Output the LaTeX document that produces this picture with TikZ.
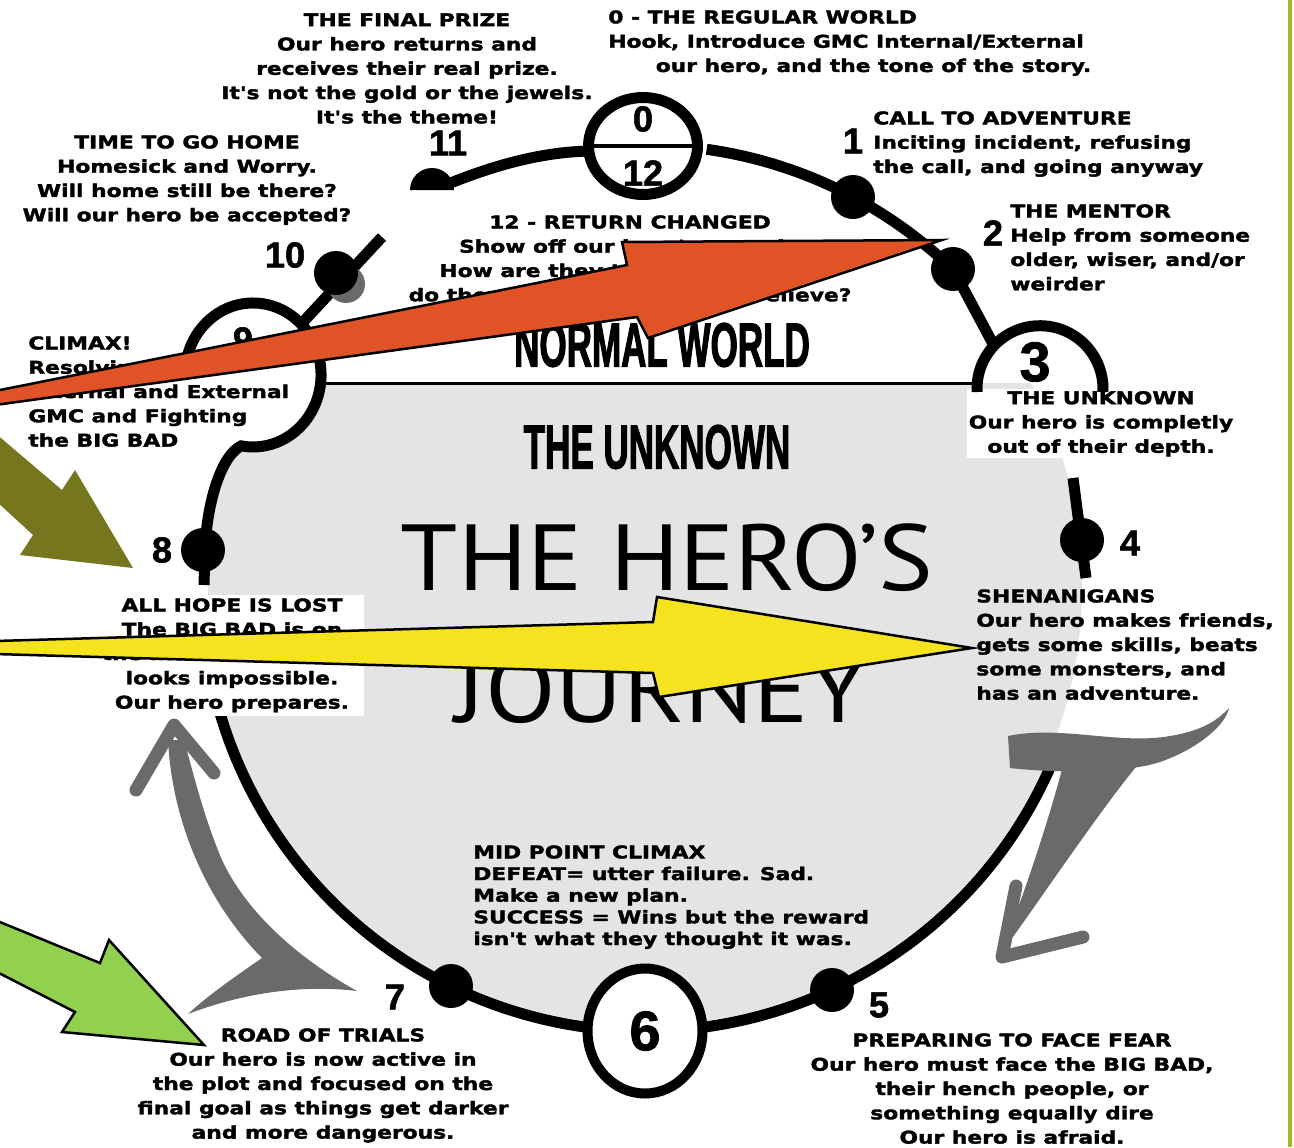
\documentclass[tikz,border=0pt]{standalone}
\usepackage{fontspec}
\usepackage{tikz}
\usetikzlibrary{shapes}

\newfontfamily\bodyfont[FakeStretch=1.24,FakeBold=2]{DejaVu Sans}
\newfontfamily\numfont[FakeBold=1.5]{Liberation Sans}
\newfontfamily\blockfont[FakeStretch=0.56,FakeBold=1.5]{Liberation Sans}
\newfontfamily\herofont[FakeStretch=1.1]{PT Sans}

\definecolor{unknowngrey}{HTML}{E4E4E4}
\definecolor{swooshgrey}{HTML}{6A6A6A}
\definecolor{arroworange}{HTML}{E05327}
\definecolor{arrowolive}{HTML}{76761E}
\definecolor{arrowyellow}{HTML}{F5E31F}
\definecolor{arrowgreen}{HTML}{92D050}
\definecolor{edgegreen}{HTML}{9DBB2D}

\begin{document}
\begin{tikzpicture}[x=0.02cm, y=-0.02cm]
  \tikzset{
    ring/.style={line width=0.22cm},
    stagedot/.style={circle, fill=black, inner sep=0pt, minimum size=0.88cm},
    stagering/.style={draw, ellipse, fill=white, inner sep=0pt},
    stagenum/.style={inner sep=0pt, font=\numfont\bfseries\fontsize{20.6}{22}\selectfont},
    bignum/.style={inner sep=0pt, font=\numfont\bfseries\fontsize{31.7}{34}\selectfont},
    blurb/.style={inner sep=0pt, font=\bodyfont\bfseries\fontsize{10}{13.83}\selectfont},
    tightblurb/.style={inner sep=0pt, font=\bodyfont\bfseries\fontsize{10}{12.33}\selectfont},
    blocktitle/.style={inner sep=0pt, font=\blockfont\bfseries\fontsize{35.6}{38}\selectfont},
    herotitle/.style={inner sep=0pt, font=\herofont\fontsize{53.4}{56}\selectfont},
    swoosh/.style={fill=swooshgrey},
    barb/.style={draw=swooshgrey, line width=0.26cm, line cap=round, line join=round},
    blockarrow/.style={draw=black, line width=0.05cm}
  }
  \useasboundingbox (0,0) rectangle (1294,1147);
  %
  \coordinate (c) at (645,588);
  \coordinate (r3nw) at (995.5,348.5);
  %
  \begin{scope}
    \clip (322,383) -- (1294,383) -- (1294,1147) -- (0,1147) -- (0,452)
      -- (240,452) -- (292,437) -- (318,410) -- cycle;
    \fill [unknowngrey] (c) circle [radius=437];
  \end{scope}
  \draw [line width=0.06cm] (322,383) -- (977,383);
  %
  \node [blurb, align=center, anchor=north, fill=white, inner xsep=1pt, inner ysep=1pt]
    (t3) at (1101,389) {THE UNKNOWN\\Our hero is completly\\out of their depth.};
  %
  \fill (410,190) arc [start angle=180, end angle=360, radius=22] -- cycle;
  \draw [ring] (448,184) .. controls (500,163) and (545,152) .. (590,151);
  \draw [ring] (c) ++(-82:443) arc [start angle=-82, end angle=-46, radius=443];
  \draw [ring] (977.1,392) arc [start angle=177, end angle=363, radius=63];
  \draw [ring] (c) ++(21:443) arc [start angle=21, end angle=170, radius=443];
  \draw [ring] (1073,478) -- (1086,578);
  \draw [ring] (185.3,368.7) arc [start angle=185, end angle=460, x radius=68, y radius=72]
    .. controls (222,455) and (207,500) .. (205,550) -- (204,585);
  \draw [ring] (301.1,324.1) -- (382,237);
  \fill [swooshgrey] (346,284) circle [radius=19];
  %
  \foreach \nm/\px/\py in {s1/853/197, s2/953/269, s4/1082/540, s5/832/990,
                           s7/451/986, s8/203/550, s10/336/273} {
    \node [stagedot] (\nm) at (\px,\py) {};
  }
  \draw [ring] (s2.center) -- (r3nw);
  \node [stagering, line width=0.22cm, minimum width=2.18cm, minimum height=1.94cm]
    (s0) at (643,146) {};
  \draw [line width=0.08cm] (s0.west) -- (s0.east);
  \node [stagering, bignum, line width=0.2cm, minimum width=2.3cm, minimum height=2.5cm]
    (s6) at (645,1031) {6};
  %
  \node [stagenum] (n0) at (643,119) {0};
  \node [stagenum] (n12) at (643,173) {12};
  \node [bignum] (n3) at (1035,362) {3};
  \foreach \lab/\px/\py in {11/448/143, 10/285/255, 1/853/141, 2/993/233, 4/1130/543,
                            5/879/1005, 7/395/997, 8/162/550, 9/243/340} {
    \node [stagenum] (n\lab) at (\px,\py) {\lab};
  }
  %
  \fill [swoosh] (168,740) .. controls (172,820) and (205,900) .. (262,958)
    .. controls (230,980) and (205,998) .. (188,1014)
    .. controls (240,994) and (300,984) .. (357,991)
    .. controls (310,965) and (250,920) .. (222,860)
    .. controls (205,820) and (195,780) .. (184,740) -- cycle;
  \draw [barb] (136,790) -- (174,725) -- (214,773);
  \fill [swoosh] (1008,736) .. controls (1060,725) and (1120,745) .. (1170,736)
    .. controls (1200,731) and (1216,722) .. (1229,708)
    .. controls (1226,724) and (1200,748) .. (1160,762)
    .. controls (1120,775) and (1045,772) .. (1010,768) -- cycle;
  \fill [swoosh] (1064,762) .. controls (1046,830) and (1022,900) .. (1000,955)
    .. controls (1040,900) and (1100,810) .. (1140,762) -- cycle;
  \draw [barb] (1016,886) -- (1002,957) -- (1083,937);
  %
  \node [blurb, align=center, anchor=north] (t11) at (407,13)
    {THE FINAL PRIZE\\Our hero returns and\\receives their real prize.\\It's not the gold or the jewels.\\It's the theme!};
  \node [blurb, align=left, anchor=north west] (t0) at (608,10)
    {0 - THE REGULAR WORLD\\Hook, Introduce GMC Internal/External\\\hspace*{2.7em}our hero, and the tone of the story.};
  \node [blurb, align=left, anchor=north west] (t1) at (873,111)
    {CALL TO ADVENTURE\\Inciting incident, refusing\\the call, and going anyway};
  \node [blurb, align=left, anchor=north west] (t2) at (1010,204)
    {THE MENTOR\\Help from someone\\older, wiser, and/or\\weirder};
  \node [blurb, align=center, anchor=north] (t10) at (187,135)
    {TIME TO GO HOME\\Homesick and Worry.\\Will home still be there?\\Will our hero be accepted?};
  \node [blurb, align=center, anchor=north] (t12) at (630,215)
    {12 - RETURN CHANGED\\Show off our hero's growth.\\How are they treated now, and\\do they live what they now believe?};
  \node [blurb, align=left, anchor=north west] (t9) at (28,336)
    {CLIMAX!\\Resolving\\Internal and External\\GMC and Fighting\\the BIG BAD};
  \node [blurb, align=left, anchor=north west] (t4) at (976,589)
    {SHENANIGANS\\Our hero makes friends,\\gets some skills, beats\\some monsters, and\\has an adventure.};
  \node [blurb, align=center, anchor=north, fill=white, inner xsep=1pt, inner ysep=2pt]
    (t8) at (232,594.5)
    {ALL HOPE IS LOST\\The BIG BAD is on\\the move and victory\\looks impossible.\\Our hero prepares.};
  \node [tightblurb, align=left, anchor=north west] (t6) at (473,845)
    {MID POINT CLIMAX\\DEFEAT= utter failure. Sad.\\Make a new plan.\\SUCCESS = Wins but the reward\\isn't what they thought it was.};
  \node [blurb, align=center, anchor=north] (t7) at (323,1028)
    {ROAD OF TRIALS\\Our hero is now active in\\the plot and focused on the\\final goal as things get darker\\and more dangerous.};
  \node [blurb, align=center, anchor=north] (t5) at (1012,1033)
    {PREPARING TO FACE FEAR\\Our hero must face the BIG BAD,\\their hench people, or\\something equally dire\\Our hero is afraid.};
  %
  \node [blocktitle] (normal) at (662,345) {NORMAL WORLD};
  \node [blocktitle] (unknown) at (657,447) {THE UNKNOWN};
  \node [herotitle] (heros) at (667,558) {THE HERO’S};
  \node [herotitle] (journey) at (661,690) {JOURNEY};
  %
  \fill [arrowolive] (-5,433) -- (62,490) -- (75,470) -- (133,568) -- (20,555)
    -- (33,535) -- (-5,500) -- cycle;
  \filldraw [blockarrow, fill=arroworange] (-5,391) -- (627,265) -- (622,242) -- (942,240)
    -- (648,338) -- (637,317) -- (-5,405) -- cycle;
  \filldraw [blockarrow, fill=arrowyellow] (-5,641) -- (653,622) -- (657,597) -- (972,648)
    -- (659,697) -- (653,673) -- (-5,654) -- cycle;
  \filldraw [blockarrow, fill=arrowgreen] (-5,920) -- (100,963) -- (109,940) -- (204,1045)
    -- (62,1032) -- (75,1012) -- (-5,971) -- cycle;
  %
  \draw [edgegreen, line width=0.08cm] (1290,0) -- (1290,1147);
\end{tikzpicture}
\end{document}
